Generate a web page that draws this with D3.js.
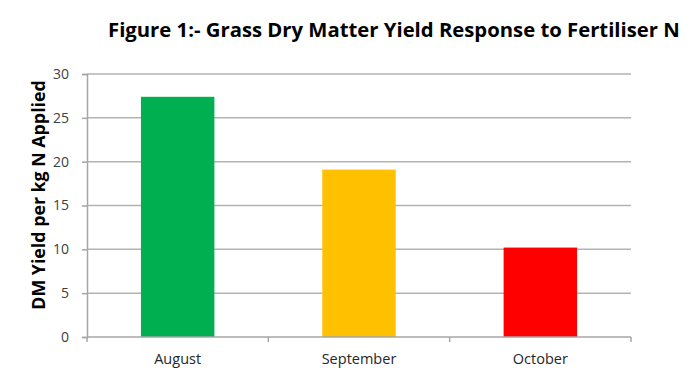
<!DOCTYPE html>
<html>
<head>
<meta charset="utf-8">
<script src="https://cdn.jsdelivr.net/npm/d3@7"></script>
<style>
  body { margin: 0; background: #fff; }
  text { font-family: "Open Sans", "DejaVu Sans", sans-serif; }
</style>
</head>
<body>
<div id="chart"></div>
<script>
var months = ["August", "September", "October"];
var yieldValues = [27.4, 19.1, 10.2];
var barColors = ["#00b050", "#ffc000", "#ff0000"];
var yTicks = [0, 5, 10, 15, 20, 25, 30];

var width = 688, height = 378;
var margin = {top: 74, right: 57, bottom: 41, left: 87};

var svg = d3.select("#chart").append("svg")
            .attr("width", width)
            .attr("height", height);

var xScale = d3.scaleBand()
               .domain(months)
               .range([margin.left, width - margin.right])
               .paddingInner(0.595)
               .paddingOuter(0.2975);

var yScale = d3.scaleLinear()
               .domain([0, 30])
               .range([height - margin.bottom, margin.top]);

// gridlines
svg.append("g")
   .attr("class", "grid")
   .selectAll("line")
   .data(yTicks.slice(1))
   .enter().append("line")
   .attr("x1", margin.left)
   .attr("x2", width - margin.right)
   .attr("y1", function(d) { return yScale(d); })
   .attr("y2", function(d) { return yScale(d); })
   .attr("stroke", "#b3b3b3")
   .attr("stroke-width", 1.5);

// bars
svg.append("g")
   .selectAll("rect")
   .data(yieldValues)
   .enter().append("rect")
   .attr("x", function(d, i) { return xScale(months[i]); })
   .attr("y", function(d) { return yScale(d); })
   .attr("width", xScale.bandwidth())
   .attr("height", function(d) { return yScale(0) - yScale(d); })
   .attr("fill", function(d, i) { return barColors[i]; });

// y axis
var yAxis = d3.axisLeft(yScale).tickValues(yTicks).tickSize(5).tickPadding(13);
var gy = svg.append("g")
   .attr("transform", "translate(" + margin.left + ",0)")
   .call(yAxis);
gy.select(".domain").attr("stroke", "#a6a6a6").attr("stroke-width", 1.5);
gy.selectAll(".tick line").attr("stroke", "#a6a6a6").attr("stroke-width", 1.5);
gy.selectAll(".tick text").attr("fill", "#404040").style("font-size", "14px")
  .style("font-family", "Open Sans, sans-serif");

// x axis with ticks at category boundaries
var step = xScale.step();
var boundaries = [0, 1, 2, 3].map(function(i) { return margin.left + i * step; });
var gx = svg.append("g").attr("class", "x_axis");
gx.append("line")
  .attr("x1", margin.left).attr("x2", width - margin.right)
  .attr("y1", yScale(0)).attr("y2", yScale(0))
  .attr("stroke", "#a6a6a6").attr("stroke-width", 1.5);
gx.selectAll(".xtick")
  .data(boundaries)
  .enter().append("line")
  .attr("x1", function(d) { return d; })
  .attr("x2", function(d) { return d; })
  .attr("y1", yScale(0))
  .attr("y2", yScale(0) + 5)
  .attr("stroke", "#a6a6a6").attr("stroke-width", 1.5);
gx.selectAll(".xlabel")
  .data(months)
  .enter().append("text")
  .attr("x", function(d) { return xScale(d) + xScale.bandwidth() / 2; })
  .attr("y", yScale(0) + 27)
  .attr("text-anchor", "middle")
  .attr("fill", "#262626")
  .style("font-size", "14.5px")
  .text(function(d) { return d; });

// y label
svg.append("text")
   .attr("transform", "translate(45,195) rotate(-90)")
   .attr("text-anchor", "middle")
   .attr("fill", "#000")
   .style("font-size", "17.8px")
   .style("font-weight", "bold")
   .text("DM Yield per kg N Applied");

// title
svg.append("text")
   .attr("x", 108)
   .attr("y", 37)
   .attr("fill", "#000")
   .style("font-size", "20.3px")
   .style("font-weight", "bold")
   .text("Figure 1:- Grass Dry Matter Yield Response to Fertiliser N");
</script>
</body>
</html>
